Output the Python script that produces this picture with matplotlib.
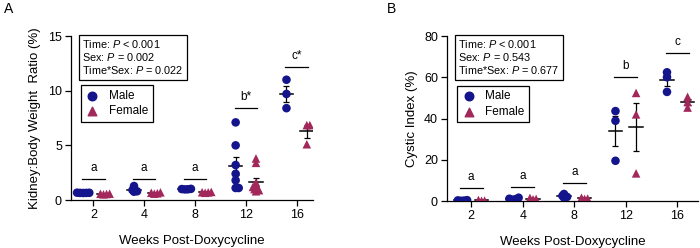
import numpy as np
import matplotlib.pyplot as plt

plt.rcParams['font.family'] = 'Liberation Sans'
plt.rcParams['mathtext.fontset'] = 'custom'
plt.rcParams['mathtext.it'] = 'Liberation Sans:italic'
plt.rcParams['mathtext.rm'] = 'Liberation Sans'

weeks = ['2', '4', '8', '12', '16']

# panel A: kidney:body weight ratio (%)
kbw_male = [
    [0.65, 0.66, 0.64, 0.67, 0.65],
    [1.28, 0.91, 0.76, 0.80],
    [1.02, 0.98, 1.00, 0.97],
    [7.1, 5.0, 3.2, 2.4, 1.8, 1.1, 1.1],
    [11.0, 9.7, 8.4],
]
kbw_female = [
    [0.55, 0.58, 0.52, 0.57],
    [0.62, 0.70, 0.58, 0.66],
    [0.70, 0.74, 0.66, 0.71],
    [3.8, 3.4, 1.6, 1.3, 1.1, 1.0, 0.9, 0.8, 1.2],
    [6.85, 6.85, 5.1],
]
kbw_letters = ['a', 'a', 'a', 'b*', 'c*']
kbw_bar_y = [1.9, 1.9, 1.9, 8.4, 12.2]
kbw_stats = 'Time: $\\it{P}$ < 0.001\nSex: $\\it{P}$ = 0.002\nTime*Sex: $\\it{P}$ = 0.022'

# panel B: cystic index (%)
ci_male = [
    [0.2, 0.4, 0.1, 0.3],
    [0.6, 1.6, 0.9, 1.1],
    [1.6, 3.4, 2.5, 2.0],
    [43.6, 38.9, 19.5],
    [62.4, 60.0, 52.9],
]
ci_female = [
    [0.2, 0.5, 0.1],
    [0.8, 1.5, 1.0],
    [1.0, 1.6, 1.2],
    [52.4, 42.0, 13.4],
    [50.5, 48.0, 45.3],
]
ci_letters = ['a', 'a', 'a', 'b', 'c']
ci_bar_y = [6.1, 6.9, 8.9, 60.0, 72.0]
ci_stats = 'Time: $\\it{P}$ < 0.001\nSex: $\\it{P}$ = 0.543\nTime*Sex: $\\it{P}$ = 0.677'

male_color = '#14148c'
female_color = '#a2285c'


def swarm(vals, dx, dy):
    # prism-like placement: points may overlap a lot, spread sideways when too close
    order = np.argsort(vals)
    placed = []
    offs = np.zeros(len(vals))
    for i in order:
        y = vals[i]
        k = 0
        while True:
            o = ((k + 1) // 2) * (1 if k % 2 else -1) * dx * 0.2
            ok = all(((o - po) / dx) ** 2 + ((y - py) / dy) ** 2 >= 0.08 for po, py in placed)
            if ok:
                break
            k += 1
        offs[i] = o
        placed.append((o, y))
    return offs


def panel(ax, male, female, letters, bar_y, stats, ylim, yticks, ylabel, xlim, lab_pad):
    dx = 0.15
    dy = ylim[1] * 0.048
    for i in range(len(weeks)):
        for vals, side, col, mk in [(male[i], -0.2, male_color, 'o'), (female[i], 0.2, female_color, '^')]:
            v = np.array(vals)
            xs = i + side + swarm(v, dx, dy)
            ax.scatter(xs, v, s=38, marker=mk, color=col, edgecolors='none', zorder=3)
            m = v.mean()
            se = v.std(ddof=1) / np.sqrt(len(v))
            ax.errorbar(i + side, m, yerr=se, fmt='none', ecolor='black', elinewidth=0.9,
                        capsize=2.5, capthick=0.9, zorder=2)
            ax.plot([i + side - 0.13, i + side + 0.13], [m, m], color='black', lw=1.1, zorder=2)
        ax.plot([i - 0.22, i + 0.22], [bar_y[i], bar_y[i]], color='black', lw=0.9)
        ax.text(i, bar_y[i] + ylim[1] * 0.03, letters[i], ha='center', va='bottom', fontsize=8.5)

    ax.set_xlim(*xlim)
    ax.set_ylim(*ylim)
    ax.set_xticks(range(len(weeks)))
    ax.set_xticklabels(weeks)
    ax.set_yticks(yticks)
    ax.spines['top'].set_visible(False)
    ax.spines['right'].set_visible(False)
    ax.spines['left'].set_linewidth(0.9)
    ax.spines['bottom'].set_linewidth(0.9)
    ax.tick_params(labelsize=9, width=0.9, length=4, pad=2.5)
    ax.set_ylabel(ylabel, fontsize=9.5, labelpad=lab_pad)
    ax.set_xlabel('Weeks Post-Doxycycline', fontsize=9.5, labelpad=10)

    ax.text(0.045, 0.985, stats, transform=ax.transAxes, ha='left', va='top', fontsize=7.8,
            linespacing=1.1,
            bbox=dict(boxstyle='square,pad=0.3', fc='white', ec='black', lw=0.9))
    h1 = ax.scatter([], [], s=38, marker='o', color=male_color)
    h2 = ax.scatter([], [], s=38, marker='^', color=female_color)
    leg = ax.legend([h1, h2], ['Male', 'Female'], loc='upper left', bbox_to_anchor=(0.04, 0.7),
                    fontsize=8.5, frameon=True, fancybox=False, edgecolor='black', framealpha=1,
                    borderpad=0.4, handletextpad=0.8, labelspacing=0.3, handlelength=1.2,
                    borderaxespad=0)
    leg.get_frame().set_linewidth(0.9)


fig = plt.figure(figsize=(7, 2.48), dpi=100)
axA = fig.add_axes([0.1014, 0.1935, 0.3456, 0.6613])
axB = fig.add_axes([0.6386, 0.1895, 0.3584, 0.6653])

panel(axA, kbw_male, kbw_female, kbw_letters, kbw_bar_y, kbw_stats, (0, 15), [0, 5, 10, 15],
      'Kidney:Body Weight  Ratio (%)', (-0.44, 4.32), 5)
panel(axB, ci_male, ci_female, ci_letters, ci_bar_y, ci_stats, (0, 80), [0, 20, 40, 60, 80],
      'Cystic Index (%)', (-0.47, 4.4), 4)

fig.text(0.005, 0.99, 'A', fontsize=10, va='top', ha='left')
fig.text(0.553, 0.99, 'B', fontsize=10, va='top', ha='left')

fig.savefig('out.png', dpi=100)
